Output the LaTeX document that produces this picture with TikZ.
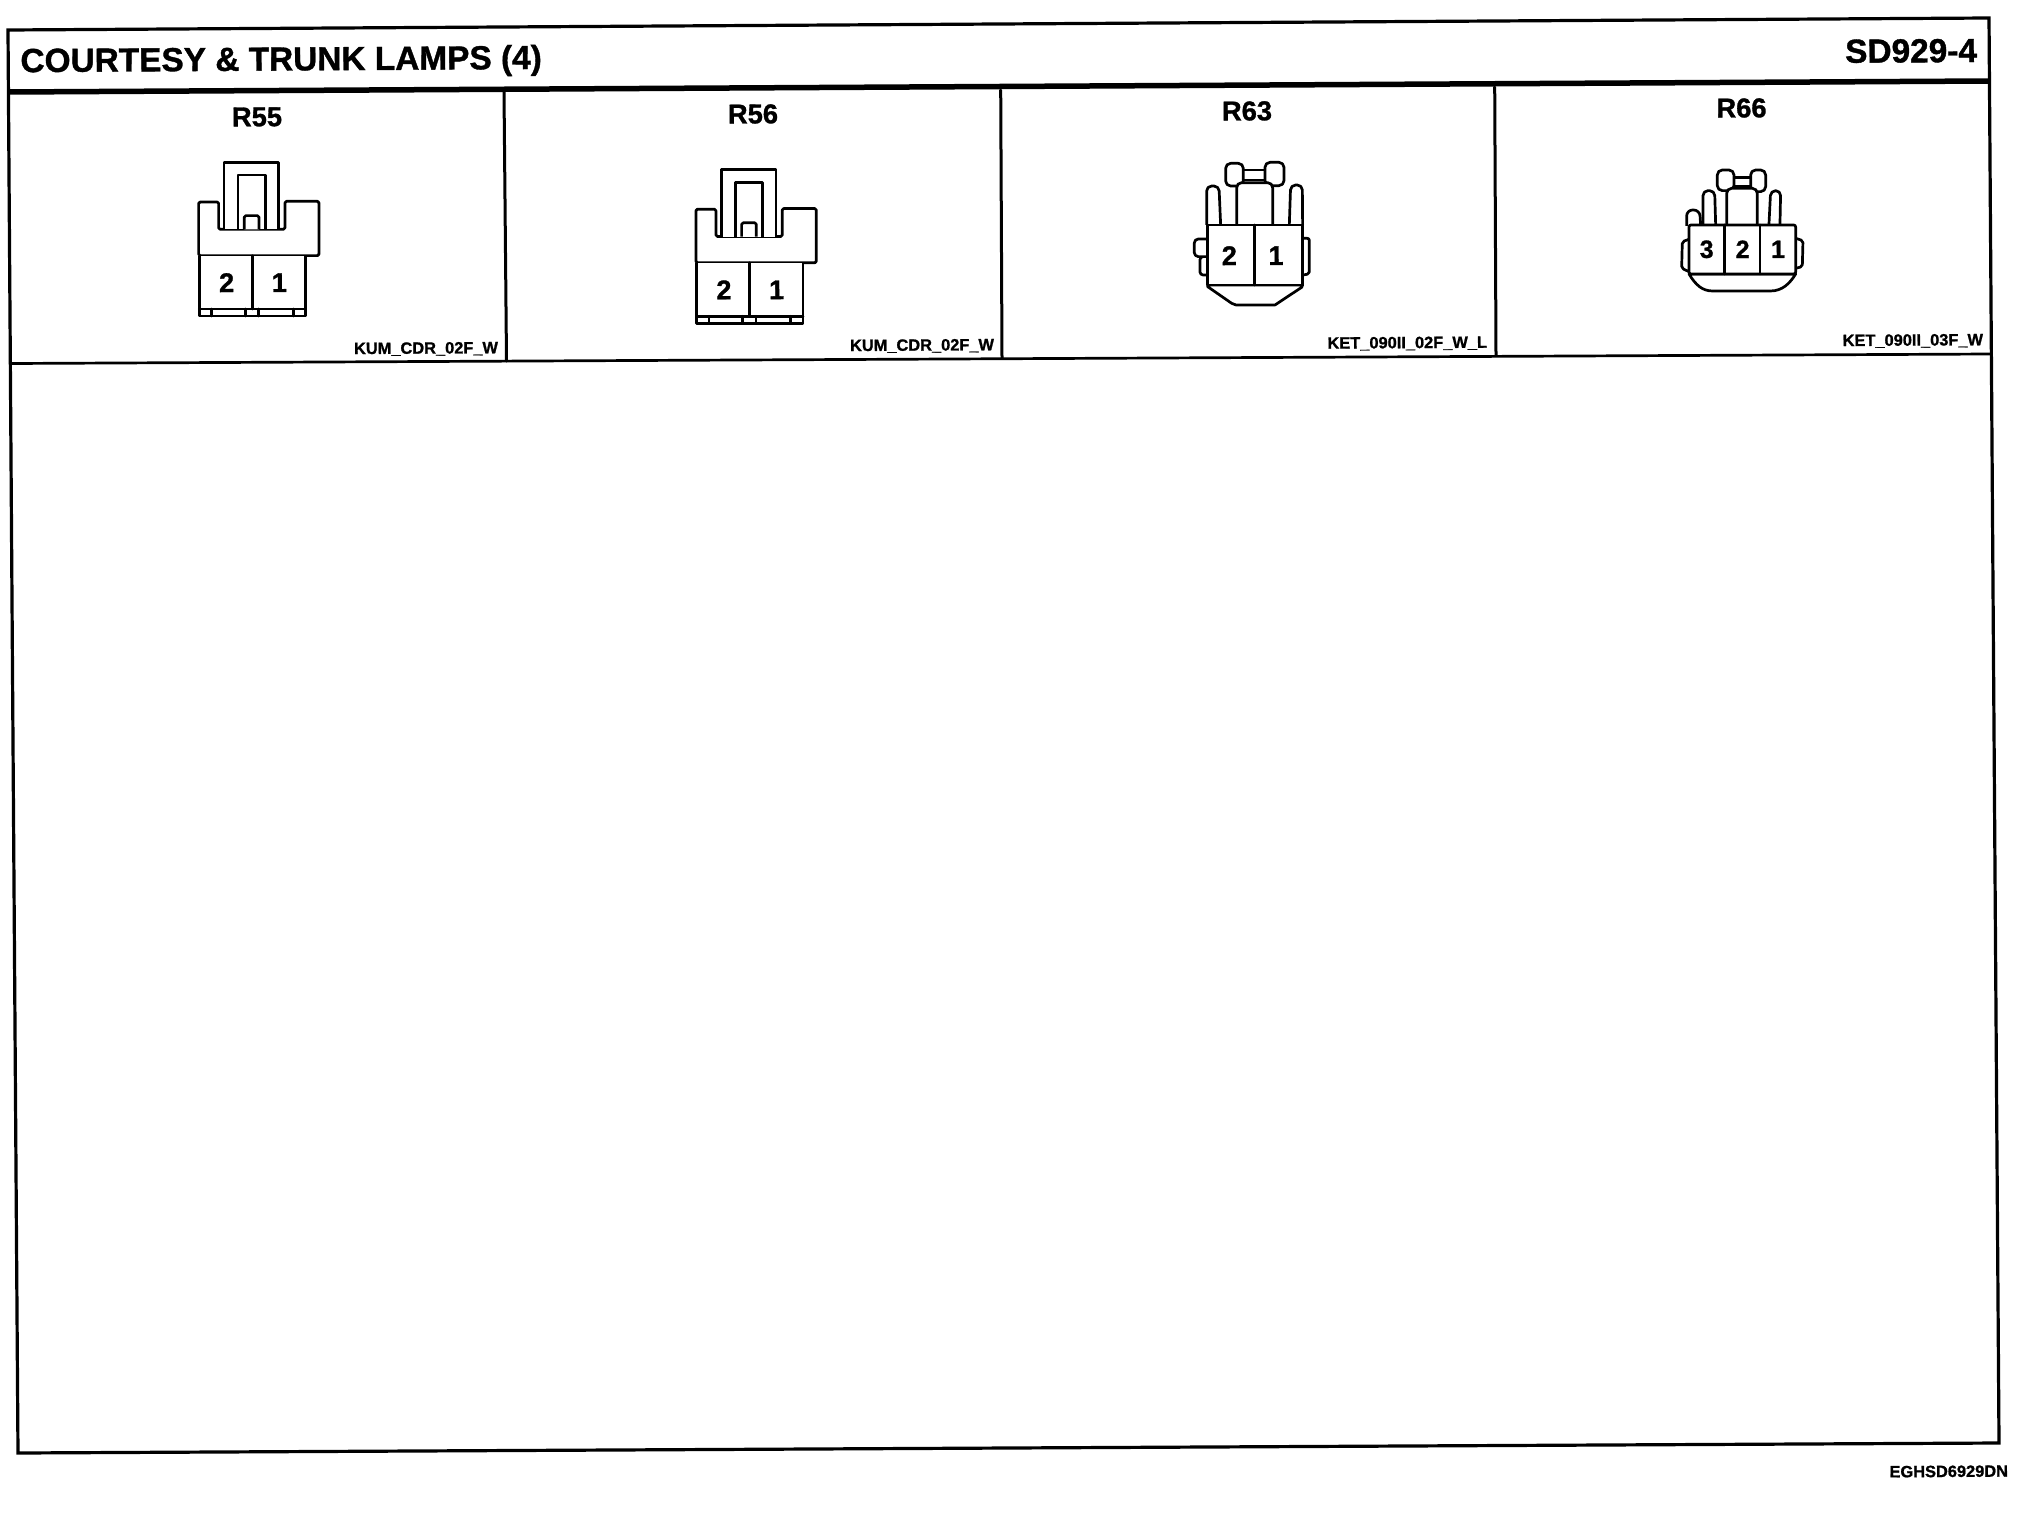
\documentclass[tikz,border=0pt]{standalone}
\usepackage{fontspec}
\setmainfont{Liberation Sans}[FakeBold=1.1]
\tikzset{
  x=1pt,y=-1pt,
  txt/.style={inner sep=0pt,outer sep=0pt,font=\bfseries,text=black,rotate=0.35},
  title/.style={txt,font=\bfseries\fontsize{33.4}{34}\selectfont},
  ref/.style={txt,font=\bfseries\fontsize{27.3}{28}\selectfont},
  code/.style={txt,font=\bfseries\fontsize{16.4}{17}\selectfont},
  pin/.style={txt,font=\bfseries\fontsize{27}{28}\selectfont},
  pinb/.style={txt,font=\bfseries\fontsize{25}{26}\selectfont},
  frame/.style={draw=black,line width=3.2pt,line cap=round},
  cell/.style={draw=black,line width=2.7pt,line cap=round},
  head/.style={draw=black,line width=5.5pt},
  part/.style={draw=black,fill=white,line width=2.7pt,line join=round},
  zoomed/.style={x=0.3333pt,y=-0.3333pt},
  kum/.pic={
    \draw[part,rounded corners=1.5pt] (596,767) -- (596,606) -- (656,606) -- (656,688) -- (855,688) -- (855,604) -- (957,604) -- (957,767) -- cycle;
    \draw[part] (672,688) -- (672,487) -- (836,487) -- (836,688);
    \draw[part] (714,688) -- (714,525) -- (796,525) -- (796,688);
    \draw[part,rounded corners=1.5pt] (733,688) -- (733,647) -- (777,647) -- (777,688);
    \draw[part] (598,767) -- (598,948) -- (917,948) -- (917,767);
    \draw[cell] (757,767) -- (757,927);
    \draw[cell] (598,927) -- (917,927);
    \foreach \xx in {635,736,776,880} \draw[cell] (\xx,927) -- (\xx,948);
    \node[pin] (two) at (680,848) {2};
    \node[pin] (one) at (838,848) {1};
  }
}
\begin{document}
\begin{tikzpicture}
\useasboundingbox[fill=white] (0,0) rectangle (2024,1520);

% outer frame
\draw[frame] (8,30) -- (1989,18) -- (1999,1443) -- (18,1453) -- cycle;
% header rule
\draw[head] (9,92) -- (1990,81);
% connector table
\draw[cell] (11,363.5) -- (1991,354);
\draw[cell,line width=3pt] (504,92) -- (506.5,361);
\draw[cell,line width=3pt] (1000.7,90) -- (1002,358);
\draw[cell,line width=3pt] (1494.7,87) -- (1496,355);

% texts
\node[title,anchor=west] (ttl) at (20.5,63.5) {COURTESY \& TRUNK LAMPS (4)};
\node[title,anchor=east] (sheet) at (1977,50.5) {SD929-4};
\node[ref] (r55) at (257,117) {R55};
\node[ref] (r56) at (753,114) {R56};
\node[ref] (r63) at (1247,111) {R63};
\node[ref] (r66) at (1741.5,108) {R66};
\node[code,anchor=east] (c55) at (498,348.5) {KUM\_CDR\_02F\_W};
\node[code,anchor=east] (c56) at (994,345.5) {KUM\_CDR\_02F\_W};
\node[code,anchor=east] (c63) at (1487,343) {KET\_090II\_02F\_W\_L};
\node[code,anchor=east] (c66) at (1983,340.5) {KET\_090II\_03F\_W};
\node[code,anchor=east] (foot) at (2008,1471) {EGHSD6929DN};

% R55, R56
\begin{scope}[zoomed]
\pic (a) at (0,0) {kum};
\end{scope}
\begin{scope}[shift={(497.3,7.2)},zoomed]
\pic (b) at (0,0) {kum};
\end{scope}

% R63
\begin{scope}[shift={(1000,60)},zoomed]
\draw[part,rounded corners=5pt] (677,378) rectangle (730,310);
\draw[part,rounded corners=5pt] (795,377) rectangle (852,307);
\draw[part] (733,330) -- (795,330);
\draw[part] (733,360) -- (795,360);
\draw[part,rounded corners=5pt] (710,495) -- (710,368) -- (818,368) -- (818,495);
\draw[part,rounded corners=5pt] (620,495) -- (620,378) -- (657,378) -- (662,495);
\draw[part,rounded corners=5pt] (868,495) -- (872,375) -- (907,375) -- (908,495);
\draw[part,rounded corners=3pt] (620,590) -- (600,590) -- (600,645) -- (620,645);
\draw[part,rounded corners=4pt] (620,537) -- (583,537) -- (583,590) -- (620,590);
\draw[part,rounded corners=2pt] (908,535) -- (928,535) -- (928,642) -- (908,645);
\draw[part] (623,675) -- (623,680) -- (695,730) -- (708,735) -- (825,735) -- (905,682) -- (908,675) -- cycle;
\draw[part] (623,495) rectangle (908,675);
\draw[cell] (763,495) -- (763,675);
\node[pin] (p632) at (688,587) {2};
\node[pin] (p631) at (828,587) {1};
\end{scope}

% R66
\begin{scope}[shift={(1504,0)},zoomed]
\draw[part,rounded corners=5pt] (640,572) rectangle (690,510);
\draw[part,rounded corners=5pt] (740,575) rectangle (785,510);
\draw[part] (690,532) -- (740,532);
\draw[part] (690,558) -- (740,558);
\draw[part,rounded corners=5pt] (668,672) -- (668,565) -- (760,565) -- (760,672);
\draw[part,rounded corners=5pt] (597,672) -- (597,572) -- (632,572) -- (635,672);
\draw[part,rounded corners=5pt] (795,672) -- (800,572) -- (830,572) -- (828,672);
\draw[part,rounded corners=6pt] (548,678) -- (548,630) -- (587,630) -- (590,675);
\draw[part,rounded corners=2pt] (555,718) -- (535,725) -- (533,805) -- (555,815);
\draw[part,rounded corners=2pt] (875,715) -- (897,722) -- (895,800) -- (875,805);
\draw[part] (555,822) .. controls (575,855) and (595,873) .. (625,873) -- (800,873) .. controls (835,873) and (858,850) .. (875,822) -- cycle;
\draw[part,rounded corners=2pt] (555,675) rectangle (875,822);
\draw[cell] (662,675) -- (662,822);
\draw[cell] (768,675) -- (768,822);
\node[pinb] (p663) at (608,748) {3};
\node[pinb] (p662) at (716,748) {2};
\node[pinb] (p661) at (822,748) {1};
\end{scope}
\end{tikzpicture}
\end{document}
